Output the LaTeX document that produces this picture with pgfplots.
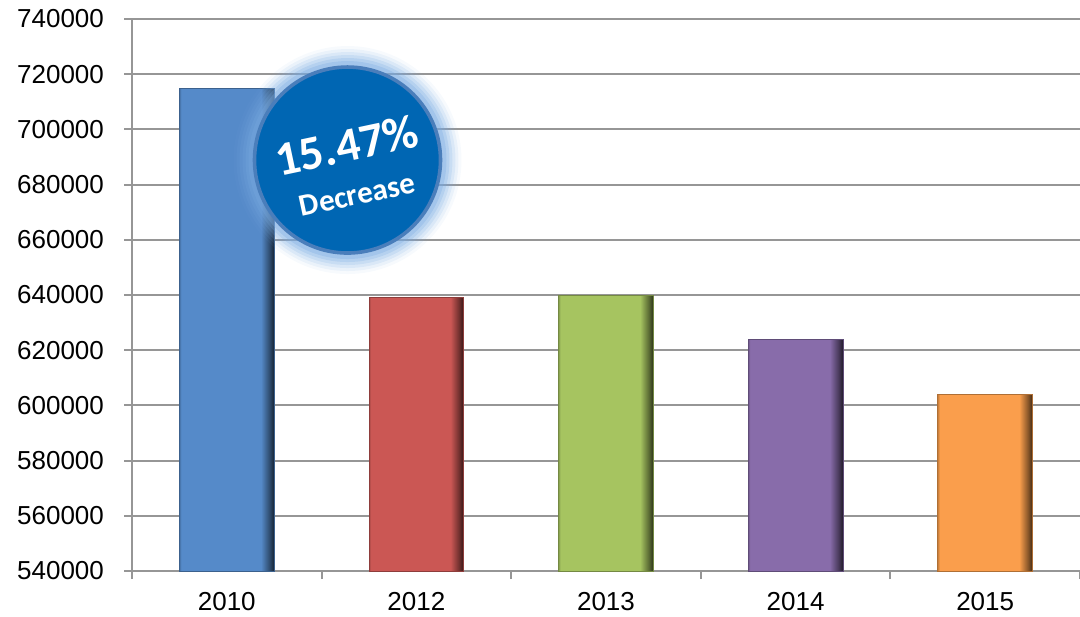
\documentclass[border=0pt]{standalone}
\usepackage{pgfplots}
\pgfplotsset{compat=1.18}
\usepackage{fontspec}
\setmainfont{Liberation Sans}
\newfontfamily\badgefont{Carlito}

\definecolor{barblue}{RGB}{85,138,201}
\definecolor{barred}{RGB}{203,87,84}
\definecolor{bargreen}{RGB}{166,196,96}
\definecolor{barpurple}{RGB}{136,108,170}
\definecolor{barorange}{RGB}{250,158,76}
\definecolor{badge}{RGB}{0,102,179}
\definecolor{badgerim}{RGB}{74,126,187}
\definecolor{glow}{RGB}{120,170,225}
\definecolor{gridgray}{RGB}{150,150,150}

% bevelled look: flat face, darker right edge
\pgfdeclarehorizontalshading{bevelblue}{100bp}{color(0bp)=(barblue!80!black); color(25bp)=(barblue!80!black); color(26bp)=(barblue); color(68bp)=(barblue); color(72.5bp)=(barblue!55!black); color(75bp)=(barblue!25!black); color(100bp)=(barblue!25!black)}
\pgfdeclarehorizontalshading{bevelred}{100bp}{color(0bp)=(barred!80!black); color(25bp)=(barred!80!black); color(26bp)=(barred); color(68bp)=(barred); color(72.5bp)=(barred!55!black); color(75bp)=(barred!25!black); color(100bp)=(barred!25!black)}
\pgfdeclarehorizontalshading{bevelgreen}{100bp}{color(0bp)=(bargreen!80!black); color(25bp)=(bargreen!80!black); color(26bp)=(bargreen); color(68bp)=(bargreen); color(72.5bp)=(bargreen!55!black); color(75bp)=(bargreen!25!black); color(100bp)=(bargreen!25!black)}
\pgfdeclarehorizontalshading{bevelpurple}{100bp}{color(0bp)=(barpurple!80!black); color(25bp)=(barpurple!80!black); color(26bp)=(barpurple); color(68bp)=(barpurple); color(72.5bp)=(barpurple!55!black); color(75bp)=(barpurple!25!black); color(100bp)=(barpurple!25!black)}
\pgfdeclarehorizontalshading{bevelorange}{100bp}{color(0bp)=(barorange!80!black); color(25bp)=(barorange!80!black); color(26bp)=(barorange); color(68bp)=(barorange); color(72.5bp)=(barorange!55!black); color(75bp)=(barorange!25!black); color(100bp)=(barorange!25!black)}

\begin{document}
\begin{tikzpicture}
\begin{axis}[
  scale only axis,
  width=474pt, height=276pt,
  xmin=-0.5, xmax=4.5,
  ymin=540000, ymax=740000,
  ytick={540000,560000,...,740000},
  xtick={0,...,4},
  xticklabels={2010,2012,2013,2014,2015},
  minor xtick={-0.5,0.5,...,4.5},
  major x tick style={draw=none},
  axis lines*=left,
  axis line style={draw=gridgray, line width=1pt},
  ymajorgrids,
  grid style={gridgray, line width=1pt},
  tick style={gridgray, line width=1pt},
  tick align=outside,
  major tick length=4pt, minor tick length=4pt,
  tick label style={font=\fontsize{13}{13}\selectfont},
  yticklabel style={xshift=-6.5pt, /pgf/number format/fixed, /pgf/number format/1000 sep={}},
  xticklabel style={yshift=-3pt},
  scaled y ticks=false,
  /pgf/number format/assume math mode=true,
  ybar, bar width=0.5, bar shift=0pt,
]
% bars
\addplot[shade, shading=bevelblue, draw=barblue!70!black, line width=0.5pt] coordinates {(0,715000)};
\addplot[shade, shading=bevelred, draw=barred!70!black, line width=0.5pt] coordinates {(1,639200)};
\addplot[shade, shading=bevelgreen, draw=bargreen!70!black, line width=0.5pt] coordinates {(2,640000)};
\addplot[shade, shading=bevelpurple, draw=barpurple!70!black, line width=0.5pt] coordinates {(3,623900)};
\addplot[shade, shading=bevelorange, draw=barorange!70!black, line width=0.5pt] coordinates {(4,603900)};

% badge with soft glow
\fill[glow, opacity=0.06] (axis cs:0.6366,688900) circle[radius=57pt];
\fill[glow, opacity=0.10] (axis cs:0.6366,688900) circle[radius=55.5pt];
\fill[glow, opacity=0.14] (axis cs:0.6366,688900) circle[radius=54pt];
\fill[glow, opacity=0.18] (axis cs:0.6366,688900) circle[radius=52.5pt];
\fill[glow, opacity=0.24] (axis cs:0.6366,688900) circle[radius=51pt];
\fill[glow, opacity=0.30] (axis cs:0.6366,688900) circle[radius=49.5pt];
\draw[fill=badge, draw=badgerim, line width=1.8pt] (axis cs:0.6366,688900) circle[radius=46.5pt];
\node[rotate=12, text=white, inner sep=0pt,
  font=\badgefont\bfseries\fontsize{24}{24}\selectfont] at (axis cs:0.632,694200) {15.47\%};
\node[rotate=12, text=white, inner sep=0pt,
  font=\badgefont\bfseries\fontsize{15.5}{15.5}\selectfont] at (axis cs:0.689,676300) {Decrease};
\end{axis}
\pgfresetboundingbox
\path ([shift={(-66pt,-22.5pt)}]current axis.south west) rectangle ([shift={(0pt,9.5pt)}]current axis.north east);
\end{tikzpicture}
\end{document}
